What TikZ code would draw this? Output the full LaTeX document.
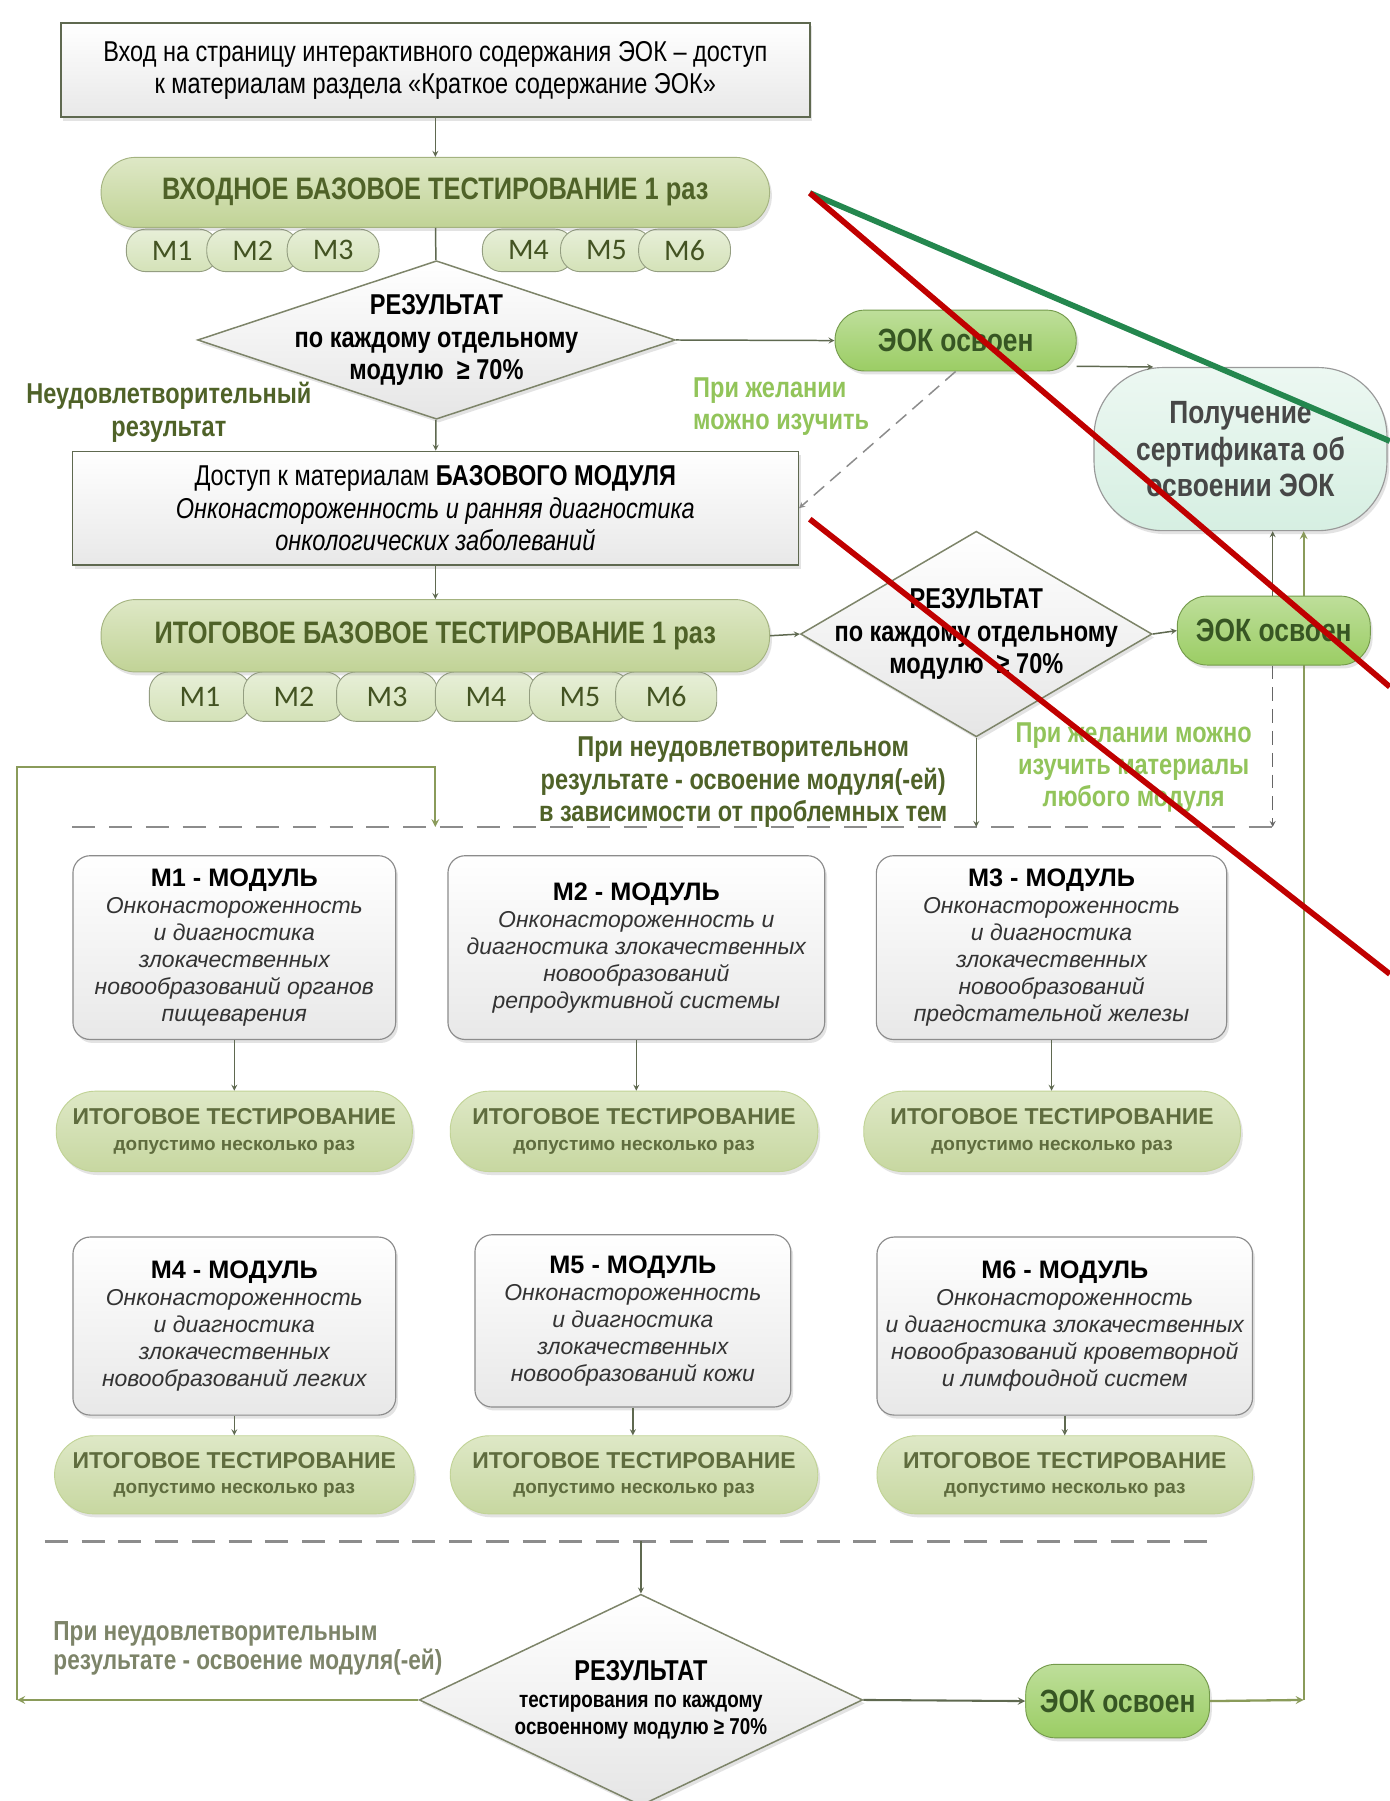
\documentclass[tikz,border=0pt]{standalone}
\usepackage{fontspec}
\setmainfont{Liberation Sans}
\newfontfamily\narrowfont{Liberation Sans}[FakeStretch=0.82]
\newfontfamily\mfont{Carlito}
\usetikzlibrary{shapes.geometric,shadows}

\newcommand{\fsz}[2]{\fontsize{#1}{#2}\selectfont}

\definecolor{lineclr}{RGB}{95,105,80}
\definecolor{olivetxt}{RGB}{79,98,40}
\definecolor{pillfill}{RGB}{193,211,150}
\definecolor{pilllight}{RGB}{222,232,198}
\definecolor{mfill}{RGB}{212,226,184}
\definecolor{eokfill}{RGB}{155,205,100}
\definecolor{eoktxt}{RGB}{55,86,35}
\definecolor{certfill}{RGB}{214,239,226}
\definecolor{wishtxt}{RGB}{146,196,90}
\definecolor{testtxt}{RGB}{95,108,62}
\definecolor{grayolive}{RGB}{125,132,105}
\definecolor{loopclr}{RGB}{138,155,90}
\definecolor{markgreen}{RGB}{36,135,78}
\definecolor{markred}{RGB}{192,0,0}

\tikzset{
  softshadow/.style={drop shadow={opacity=.22,shadow xshift=2pt,shadow yshift=-3pt}},
  plainbox/.style={draw=lineclr, line width=1.3pt, top color=white, bottom color=black!9, inner sep=0pt, align=center, font=\narrowfont\fsz{25}{28}, softshadow},
  bigpill/.style={rounded corners=30pt, top color=pilllight, bottom color=pillfill, draw=pillfill!85!black, line width=.8pt, text=olivetxt, font=\narrowfont\bfseries\fsz{27}{28}, softshadow},
  mpill/.style={rounded corners=17pt, top color=mfill!55!white, bottom color=mfill, draw=mfill!70!black, line width=.8pt, text=olivetxt!85!black, font=\mfont\fsz{26}{28}, inner sep=0pt},
  check/.style={diamond, top color=white, bottom color=black!10, draw=grayolive, line width=1.3pt, inner sep=0pt, softshadow},
  checktxt/.style={align=center, font=\narrowfont\bfseries\fsz{25}{28}},
  eok/.style={rounded corners=26pt, top color=eokfill!65!white, bottom color=eokfill, draw=eokfill!75!black, line width=.8pt, text=eoktxt, font=\narrowfont\bfseries\fsz{28}{30}, softshadow},
  modbox/.style={rounded corners=15pt, top color=white, bottom color=black!9, draw=black!45, line width=1pt, align=center, text=black!80, font=\fsz{20}{23.5}, softshadow},
  testpill/.style={rounded corners=34pt, top color=pilllight, bottom color=pillfill!90!white, draw=pillfill, line width=.8pt, text=testtxt, align=center, font=\bfseries\fsz{20}{22}, softshadow},
  note/.style={align=center, font=\narrowfont\bfseries\fsz{25}{28}},
  link/.style={->, >=stealth, lineclr, line width=1.3pt},
  looplink/.style={->, >=stealth, loopclr, line width=2pt},
  dashsep/.style={black!45, line width=2pt, dash pattern=on 20pt off 12pt},
}

\begin{document}
\begin{tikzpicture}[x=1pt,y=-1pt]

	\fill[white] (0,0) rectangle (1210,1568);
	\useasboundingbox (0,0) rectangle (1210,1568);

	% вход
	\node[plainbox, minimum width=652pt, minimum height=82pt] (start) at (379,61) {Вход на страницу интерактивного содержания ЭОК – доступ\\к материалам раздела «Краткое содержание ЭОК»};

	\node[mpill, minimum width=80pt, minimum height=37pt] (inA) at (150,218) {M1};
	\node[mpill, minimum width=80pt, minimum height=37pt] (inB) at (220,218) {M2};
	\node[mpill, minimum width=80pt, minimum height=37pt] (inC) at (290,218) {M3};
	\node[mpill, minimum width=80pt, minimum height=37pt] (inD) at (460,218) {M4};
	\node[mpill, minimum width=80pt, minimum height=37pt] (inE) at (528,218) {M5};
	\node[mpill, minimum width=80pt, minimum height=37pt] (inF) at (596,218) {M6};
	\node[bigpill, minimum width=582pt, minimum height=61pt] (intest) at (379,167.5) {ВХОДНОЕ БАЗОВОЕ ТЕСТИРОВАНИЕ 1 раз};

	\node[check, minimum width=416pt, minimum height=138pt] (d1) at (380,296) {};
	\node[checktxt] (d1txt) at (d1) {РЕЗУЛЬТАТ\\по каждому отдельному\\модулю~~≥ 70\%};

	\node[eok, minimum width=210pt, minimum height=53pt] (eok1) at (832,296.5) {ЭОК освоен};
	\node[rounded corners=60pt, top color=certfill!45!white, bottom color=certfill, draw=black!40, line width=1pt, minimum width=255pt, minimum height=142pt, align=center, text=black!72, font=\narrowfont\bfseries\fsz{28}{32}, softshadow] (cert) at (1080,391) {Получение\\сертификата об\\освоении ЭОК};

	\node[note, text=wishtxt, align=left, anchor=west] (wish1) at (600,354) {При желании\\можно изучить};
	\node[note, text=olivetxt] (fail1) at (147,359) {Неудовлетворительный\\результат};

	% базовый модуль
	\node[plainbox, minimum width=632pt, minimum height=99pt] (basic) at (379,442.5) {Доступ к материалам \textbf{БАЗОВОГО МОДУЛЯ}\\\itshape Онконастороженность и ранняя диагностика\\\itshape онкологических заболеваний};

	\node[mpill, minimum width=88pt, minimum height=43pt] (finA) at (174,606.5) {M1};
	\node[mpill, minimum width=88pt, minimum height=43pt] (finB) at (256,606.5) {M2};
	\node[mpill, minimum width=88pt, minimum height=43pt] (finC) at (337,606.5) {M3};
	\node[mpill, minimum width=88pt, minimum height=43pt] (finD) at (423,606.5) {M4};
	\node[mpill, minimum width=88pt, minimum height=43pt] (finE) at (505,606.5) {M5};
	\node[mpill, minimum width=88pt, minimum height=43pt] (finF) at (580,606.5) {M6};
	\node[bigpill, minimum width=582pt, minimum height=63pt] (fintest) at (379,553.5) {ИТОГОВОЕ БАЗОВОЕ ТЕСТИРОВАНИЕ 1 раз};

	\node[check, minimum width=306pt, minimum height=179pt] (d2) at (850,552) {};
	\node[checktxt] (d2txt) at (d2) {РЕЗУЛЬТАТ\\по каждому отдельному\\модулю~~≥ 70\%};

	\coordinate (loopBR) at (1135,1480);
	\draw[looplink] (loopBR) -- (loopBR |- cert.south);
	\node[eok, minimum width=168pt, minimum height=60pt] (eok2) at (1109,549) {ЭОК освоен};

	\node[note, text=wishtxt] (wish2) at (987,668) {При желании можно\\изучить материалы\\любого модуля};
	\node[note, text=olivetxt] (fail2) at (647,681) {При неудовлетворительном\\результате - освоение модуля(-ей)\\в зависимости от проблемных тем};

	\coordinate (dA) at (63,720);
	\coordinate (dB) at (1118,720);
	\draw[dashsep] (dA) -- (dB);

	% модули
	\node[modbox, minimum width=281pt, minimum height=160pt] (modA) at (204,825) {{\bfseries\color{black}\fsz{22}{25}М1 - МОДУЛЬ}\\\itshape Онконастороженность\\\itshape и диагностика\\\itshape злокачественных\\\itshape новообразований органов\\\itshape пищеварения};
	\node[modbox, minimum width=328pt, minimum height=160pt] (modB) at (554,825) {{\bfseries\color{black}\fsz{22}{25}М2 - МОДУЛЬ}\\\itshape Онконастороженность и\\\itshape диагностика злокачественных\\\itshape новообразований\\\itshape репродуктивной системы};
	\node[modbox, minimum width=305pt, minimum height=160pt] (modC) at (915.5,825) {{\bfseries\color{black}\fsz{22}{25}М3 - МОДУЛЬ}\\\itshape Онконастороженность\\\itshape и диагностика\\\itshape злокачественных\\\itshape новообразований\\\itshape предстательной железы};

	\node[testpill, minimum width=310pt, minimum height=70pt] (testA) at (204,985) {ИТОГОВОЕ ТЕСТИРОВАНИЕ\\{\fsz{16.5}{22}допустимо несколько раз}};
	\node[testpill, minimum width=320pt, minimum height=70pt] (testB) at (552,985) {ИТОГОВОЕ ТЕСТИРОВАНИЕ\\{\fsz{16.5}{22}допустимо несколько раз}};
	\node[testpill, minimum width=328pt, minimum height=70pt] (testC) at (916,985) {ИТОГОВОЕ ТЕСТИРОВАНИЕ\\{\fsz{16.5}{22}допустимо несколько раз}};

	\node[modbox, minimum width=281pt, minimum height=155pt] (modD) at (204,1154.5) {{\bfseries\color{black}\fsz{22}{25}М4 - МОДУЛЬ}\\\itshape Онконастороженность\\\itshape и диагностика\\\itshape злокачественных\\\itshape новообразований легких};
	\node[modbox, minimum width=275pt, minimum height=150pt] (modE) at (551,1150) {{\bfseries\color{black}\fsz{22}{25}М5 - МОДУЛЬ}\\\itshape Онконастороженность\\\itshape и диагностика\\\itshape злокачественных\\\itshape новообразований кожи};
	\node[modbox, minimum width=327pt, minimum height=155pt] (modF) at (927,1154.5) {{\bfseries\color{black}\fsz{22}{25}М6 - МОДУЛЬ}\\\itshape Онконастороженность\\\itshape и диагностика злокачественных\\\itshape новообразований кроветворной\\\itshape и лимфоидной систем};

	\node[testpill, minimum width=313pt, minimum height=68pt] (testD) at (204,1284) {ИТОГОВОЕ ТЕСТИРОВАНИЕ\\{\fsz{16.5}{22}допустимо несколько раз}};
	\node[testpill, minimum width=320pt, minimum height=68pt] (testE) at (552,1284) {ИТОГОВОЕ ТЕСТИРОВАНИЕ\\{\fsz{16.5}{22}допустимо несколько раз}};
	\node[testpill, minimum width=327pt, minimum height=68pt] (testF) at (927,1284) {ИТОГОВОЕ ТЕСТИРОВАНИЕ\\{\fsz{16.5}{22}допустимо несколько раз}};

	\coordinate (dC) at (39,1342);
	\coordinate (dD) at (1053,1342);
	\draw[dashsep] (dC) -- (dD);

	% итог
	\node[check, minimum width=386pt, minimum height=184pt] (d3) at (558,1480) {};
	\node[align=center, font=\narrowfont\bfseries\fsz{20}{23.5}] (d3txt) at (d3) {{\fsz{25}{24}РЕЗУЛЬТАТ}\\тестирования по каждому\\освоенному модулю ≥ 70\%};
	\node[eok, minimum width=160pt, minimum height=64pt, font=\narrowfont\bfseries\fsz{28}{28}] (eok3) at (973,1481) {ЭОК освоен};
	\node[note, text=grayolive, align=left, anchor=west, font=\narrowfont\bfseries\fsz{24}{25}] (fail3) at (43,1435) {При неудовлетворительным\\результате - освоение модуля(-ей)};

	\coordinate (loopBL) at (15,1480);
	\coordinate (loopTL) at (15,668);

	% стрелки
	\draw[link] (start) -- (intest);
	\draw[lineclr, line width=1.3pt] (intest) -- (d1);
	\draw[link] (d1.east) -- (eok1.west);
	\draw[link] (eok1.-12) -- ([xshift=52pt]cert.north west);
	\draw[link, dash pattern=on 12pt off 7pt, black!45] (eok1.south) -- (basic.east);
	\draw[link] (d1) -- (basic);
	\draw[link] (basic) -- (fintest);
	\draw[link] (fintest.east) -- (d2.west);
	\draw[link] (d2.east) -- (eok2.west);
	\draw[link] (eok2.north -| 1108,0) -- (1108,0 |- cert.south);
	\draw[link, dash pattern=on 12pt off 7pt, black!60] (eok2.south -| 1108,0) -- (1108,0 |- dA);
	\draw[link] (d2.south) -- (d2.south |- dA);
	\draw[looplink] (loopBL) -- (loopTL) -| (fintest.south |- dA);
	\draw[link] (modA) -- (testA);
	\draw[link] (modB.south) -- (modB.south |- testB.north);
	\draw[link] (modC.south) -- (modC.south |- testC.north);
	\draw[link] (modD) -- (testD);
	\draw[link] (modE.south) -- (modE.south |- testE.north);
	\draw[link] (modF) -- (testF);
	\draw[link] (d3.north |- dC) -- (d3.north);
	\draw[link, line width=1.8pt] (d3.east) -- (eok3.west);
	\draw[looplink] (d3.west) -- (loopBL);
	\draw[looplink] (eok3.east) -- (loopBR);

	% пометки
	\draw[markgreen, line width=5pt] (705,168) -- (1210,384);
	\draw[markred, line width=5pt] (705,168) -- (1210,598);
	\draw[markred, line width=5pt] (705,452) -- (1210,848);
\end{tikzpicture}
\end{document}
